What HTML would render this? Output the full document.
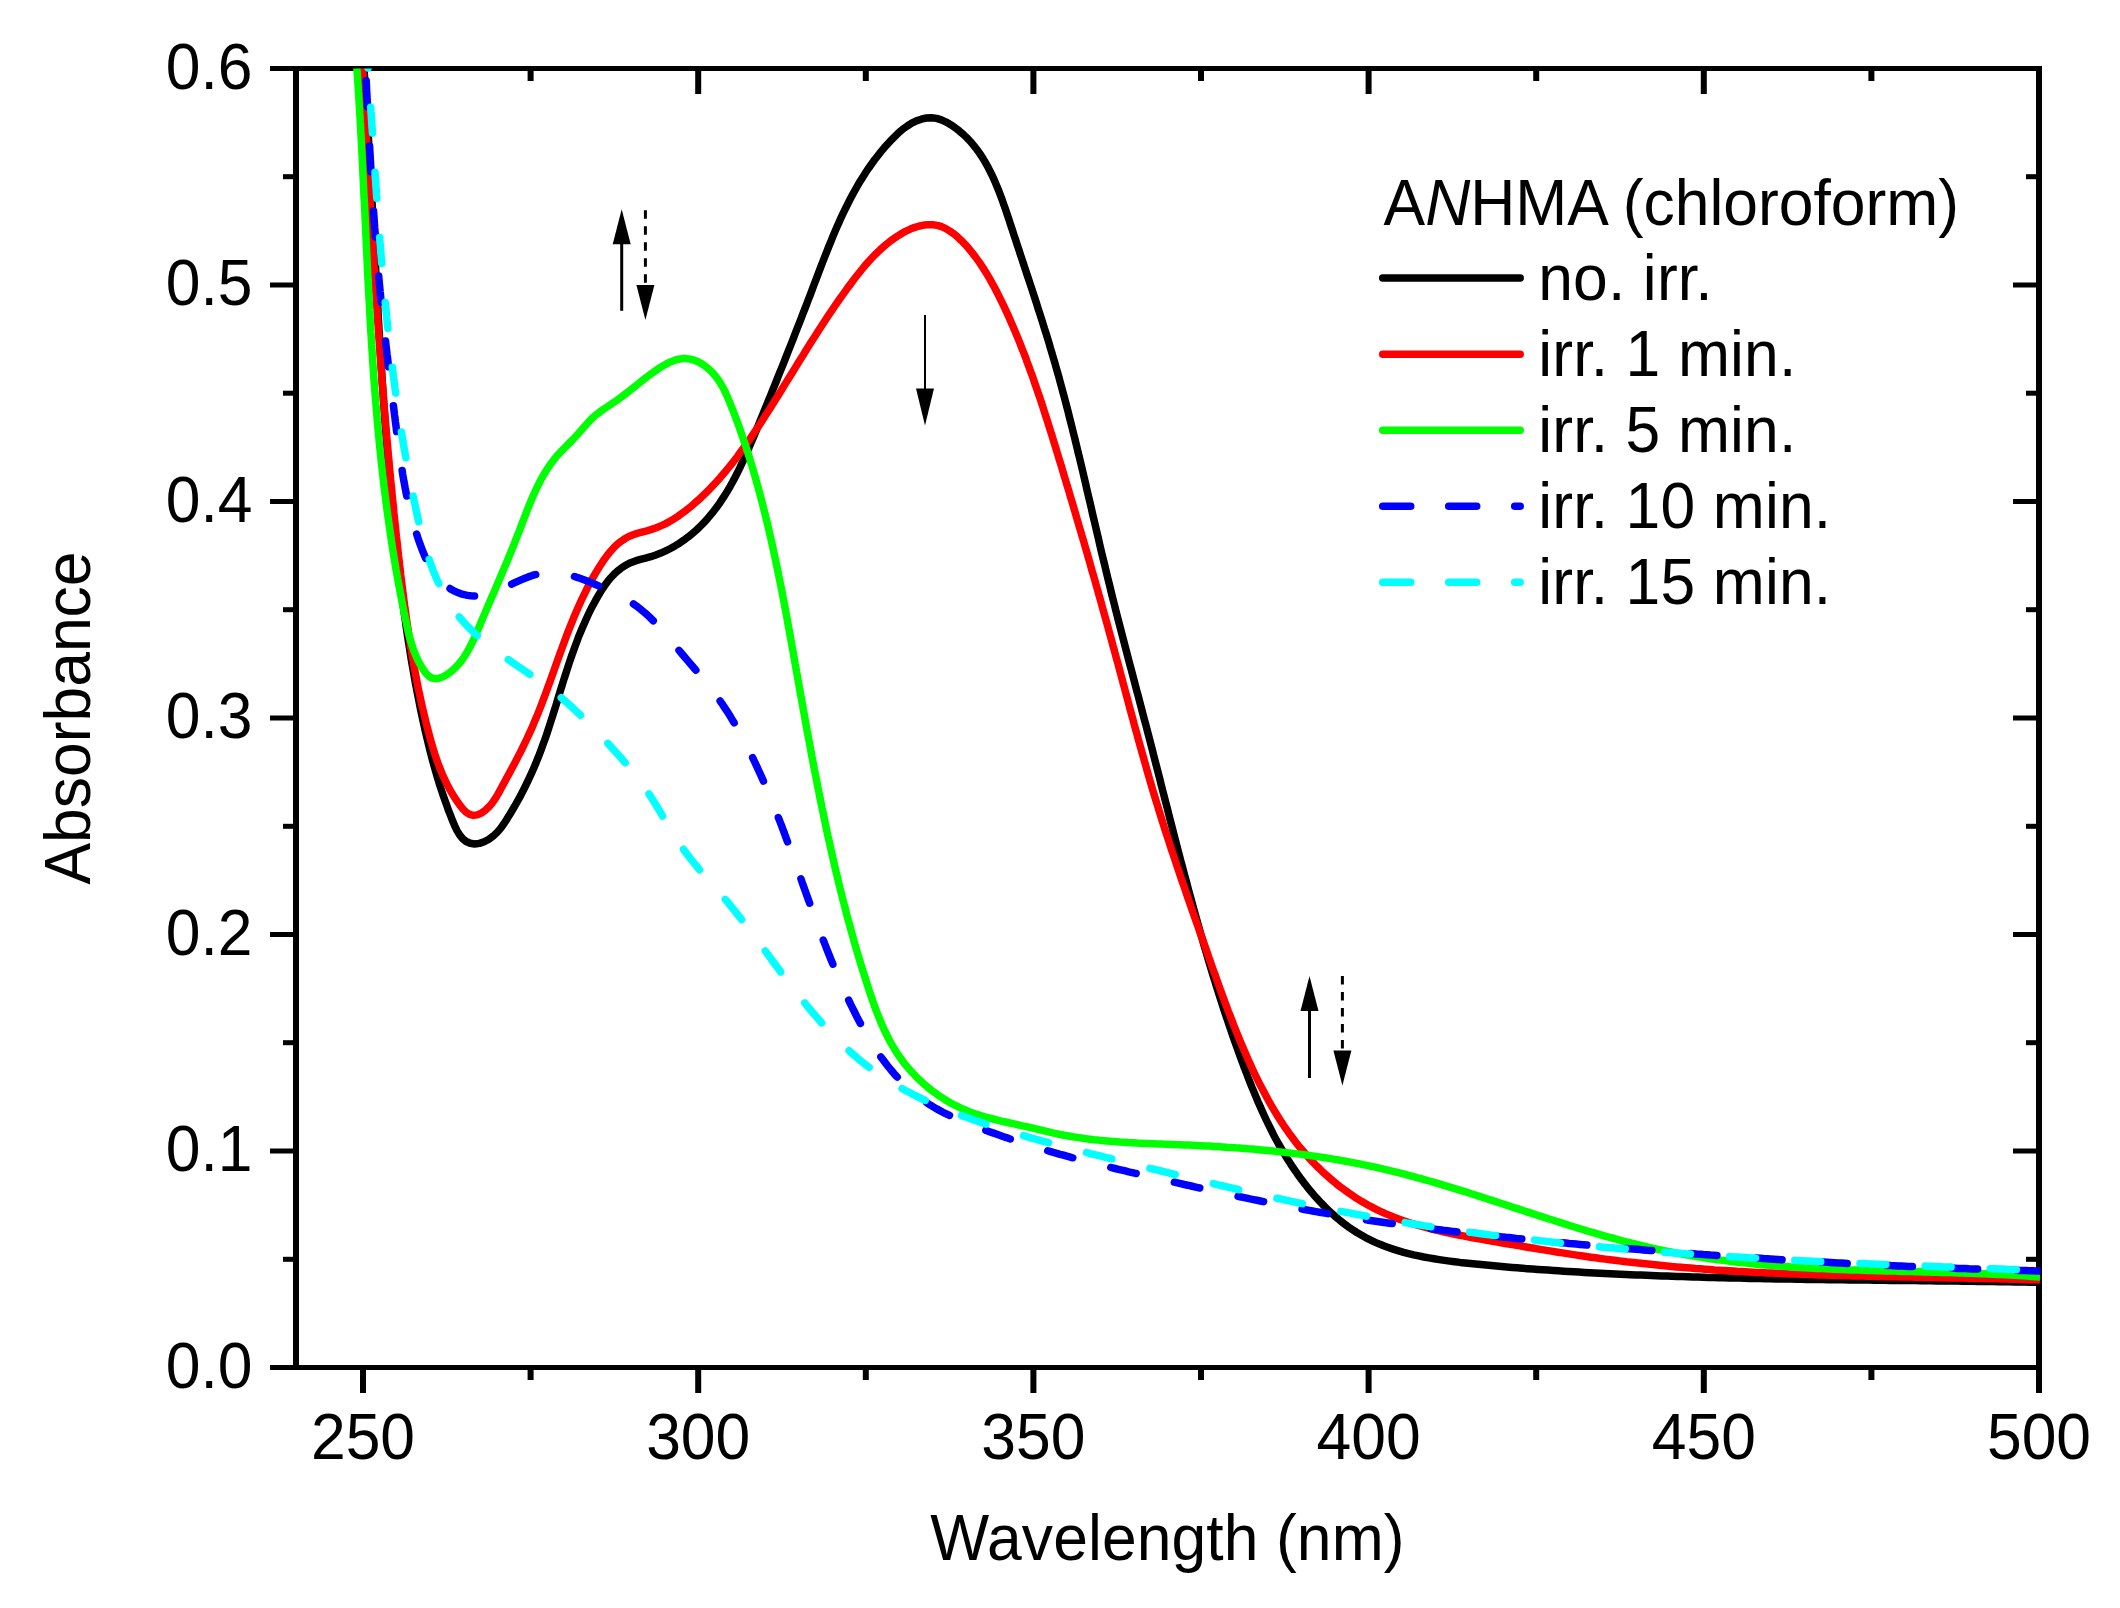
<!DOCTYPE html>
<html lang="en"><head><meta charset="utf-8"><title>UV-Vis absorbance of ANHMA in chloroform</title>
<style>html,body{margin:0;padding:0;background:#fff}svg{display:block}text{font-family:"Liberation Sans",Arial,Helvetica,sans-serif;font-size:62.4px;fill:#000}</style></head><body>
<svg width="2120" height="1608" viewBox="0 0 2120 1608">
<rect width="2120" height="1608" fill="#fff"/>
<defs><clipPath id="plot"><rect x="296.0" y="68.5" width="1744.5" height="1299.0"/></clipPath></defs>
<g fill="#000">
<rect x="270" y="66.0" width="1772.0" height="5"/>
<rect x="270" y="1365.0" width="1772.0" height="5"/>
<rect x="293.0" y="66.0" width="6" height="1304.0"/>
<rect x="2036.0" y="66.0" width="6" height="1327.0"/>
<rect x="360.0" y="1367.5" width="6" height="25.5"/>
<rect x="360.0" y="68.5" width="6" height="25.5"/>
<rect x="527.6" y="1367.5" width="6" height="12.5"/>
<rect x="527.6" y="68.5" width="6" height="12.5"/>
<rect x="695.2" y="1367.5" width="6" height="25.5"/>
<rect x="695.2" y="68.5" width="6" height="25.5"/>
<rect x="862.8" y="1367.5" width="6" height="12.5"/>
<rect x="862.8" y="68.5" width="6" height="12.5"/>
<rect x="1030.4" y="1367.5" width="6" height="25.5"/>
<rect x="1030.4" y="68.5" width="6" height="25.5"/>
<rect x="1198.0" y="1367.5" width="6" height="12.5"/>
<rect x="1198.0" y="68.5" width="6" height="12.5"/>
<rect x="1365.6" y="1367.5" width="6" height="25.5"/>
<rect x="1365.6" y="68.5" width="6" height="25.5"/>
<rect x="1533.2" y="1367.5" width="6" height="12.5"/>
<rect x="1533.2" y="68.5" width="6" height="12.5"/>
<rect x="1700.8" y="1367.5" width="6" height="25.5"/>
<rect x="1700.8" y="68.5" width="6" height="25.5"/>
<rect x="1868.4" y="1367.5" width="6" height="12.5"/>
<rect x="1868.4" y="68.5" width="6" height="12.5"/>
<rect x="2036.0" y="1367.5" width="6" height="25.5"/>
<rect x="270" y="1365.0" width="26.0" height="5"/>
<rect x="283" y="1256.8" width="13.0" height="5"/>
<rect x="2026" y="1256.8" width="13.0" height="5"/>
<rect x="270" y="1148.5" width="26.0" height="5"/>
<rect x="2013" y="1148.5" width="26.0" height="5"/>
<rect x="283" y="1040.2" width="13.0" height="5"/>
<rect x="2026" y="1040.2" width="13.0" height="5"/>
<rect x="270" y="932.0" width="26.0" height="5"/>
<rect x="2013" y="932.0" width="26.0" height="5"/>
<rect x="283" y="823.8" width="13.0" height="5"/>
<rect x="2026" y="823.8" width="13.0" height="5"/>
<rect x="270" y="715.5" width="26.0" height="5"/>
<rect x="2013" y="715.5" width="26.0" height="5"/>
<rect x="283" y="607.2" width="13.0" height="5"/>
<rect x="2026" y="607.2" width="13.0" height="5"/>
<rect x="270" y="499.0" width="26.0" height="5"/>
<rect x="2013" y="499.0" width="26.0" height="5"/>
<rect x="283" y="390.7" width="13.0" height="5"/>
<rect x="2026" y="390.7" width="13.0" height="5"/>
<rect x="270" y="282.5" width="26.0" height="5"/>
<rect x="2013" y="282.5" width="26.0" height="5"/>
<rect x="283" y="174.2" width="13.0" height="5"/>
<rect x="2026" y="174.2" width="13.0" height="5"/>
<rect x="270" y="66.0" width="26.0" height="5"/>
</g>
<g clip-path="url(#plot)" fill="none" stroke-linejoin="round">
<path d="M361.9,40.0 L362.2,45.2 L362.6,50.4 L363.0,55.5 L363.4,60.7 L363.7,65.9 L364.1,71.0 L364.5,76.2 L364.8,81.4 L365.2,86.6 L365.5,91.7 L365.8,96.9 L366.2,102.1 L366.5,107.3 L366.8,112.4 L367.1,117.6 L367.5,122.8 L367.8,128.0 L368.1,133.1 L368.4,138.3 L368.7,143.5 L369.0,148.7 L369.3,153.8 L369.6,159.0 L369.9,164.2 L370.2,169.4 L370.5,174.5 L370.8,179.7 L371.1,184.9 L371.4,190.0 L371.6,195.2 L371.9,200.4 L372.2,205.6 L372.5,210.7 L372.8,215.9 L373.0,221.1 L373.3,226.3 L373.6,231.4 L373.9,236.6 L374.2,241.8 L374.4,247.0 L374.7,252.1 L375.0,257.3 L375.3,262.5 L375.6,267.6 L375.8,272.8 L376.1,278.0 L376.4,283.2 L376.7,288.3 L377.0,293.5 L377.3,298.7 L377.6,303.9 L377.9,309.0 L378.1,314.2 L378.4,319.4 L378.7,324.5 L379.0,329.7 L379.3,334.9 L379.7,340.0 L380.0,345.2 L380.3,350.4 L380.6,355.6 L380.9,360.7 L381.2,365.9 L381.6,371.1 L381.9,376.2 L382.2,381.4 L382.6,386.6 L382.9,391.7 L383.3,396.9 L383.6,402.1 L384.0,407.2 L384.4,412.4 L384.7,417.6 L385.1,422.7 L385.5,427.9 L385.9,433.1 L386.3,438.2 L386.7,443.4 L387.1,448.6 L387.5,453.7 L387.9,458.9 L388.3,464.1 L388.8,469.2 L389.2,474.4 L389.7,479.6 L390.1,484.7 L390.6,489.9 L391.0,495.1 L391.5,500.2 L392.0,505.4 L392.5,510.5 L393.0,515.7 L393.5,520.9 L394.0,526.0 L394.5,531.2 L395.1,536.3 L395.6,541.5 L396.2,546.7 L396.7,551.8 L397.3,557.0 L397.9,562.1 L398.5,567.3 L399.1,572.4 L399.7,577.6 L400.3,582.8 L401.0,587.9 L401.6,593.1 L402.3,598.2 L402.9,603.4 L403.6,608.5 L404.3,613.6 L405.1,618.8 L405.8,623.9 L406.5,629.0 L407.3,634.2 L408.1,639.3 L408.9,644.4 L409.7,649.5 L410.5,654.6 L411.3,659.7 L412.2,664.9 L413.1,669.9 L414.0,675.0 L414.9,680.1 L415.8,685.2 L416.8,690.3 L417.8,695.3 L418.8,700.4 L419.8,705.5 L420.8,710.5 L421.9,715.5 L423.0,720.6 L424.1,725.6 L425.2,730.6 L426.4,735.6 L427.6,740.6 L428.8,745.6 L430.0,750.6 L431.3,755.6 L432.6,760.6 L434.0,765.6 L435.4,770.6 L436.9,775.6 L438.4,780.6 L439.9,785.6 L441.6,790.6 L443.2,795.6 L445.0,800.6 L446.8,805.6 L448.6,810.7 L450.6,815.7 L452.6,820.8 L454.7,825.8 L457.0,830.6 L459.6,834.9 L462.6,838.6 L466.1,841.5 L470.2,843.3 L474.7,844.0 L479.5,843.4 L484.2,841.8 L488.9,839.3 L493.2,836.1 L497.1,832.4 L500.6,828.4 L503.7,824.0 L506.6,819.6 L509.4,815.1 L512.1,810.5 L514.8,806.0 L517.4,801.4 L519.9,796.9 L522.3,792.3 L524.6,787.7 L526.9,783.0 L529.1,778.4 L531.3,773.7 L533.4,769.0 L535.4,764.3 L537.3,759.5 L539.2,754.8 L541.1,749.9 L542.8,745.1 L544.6,740.3 L546.3,735.4 L547.9,730.5 L549.5,725.6 L551.1,720.6 L552.7,715.7 L554.2,710.8 L555.8,705.8 L557.3,700.9 L558.8,695.9 L560.3,690.9 L561.9,686.0 L563.4,681.0 L565.0,676.0 L566.6,671.1 L568.2,666.2 L569.8,661.2 L571.5,656.3 L573.2,651.4 L575.0,646.5 L576.8,641.7 L578.6,636.8 L580.6,632.0 L582.6,627.2 L584.7,622.4 L586.8,617.7 L589.0,613.0 L591.3,608.3 L593.8,603.7 L596.3,599.1 L598.9,594.6 L601.6,590.1 L604.5,585.8 L607.5,581.7 L610.8,577.7 L614.2,574.1 L617.9,570.7 L621.9,567.6 L626.1,565.0 L630.6,562.7 L635.4,560.9 L640.4,559.4 L645.6,558.1 L650.8,556.7 L655.8,555.0 L660.8,553.1 L665.7,550.9 L670.4,548.5 L675.0,545.9 L679.5,543.2 L683.8,540.2 L688.0,537.1 L692.0,533.8 L695.9,530.5 L699.6,527.0 L703.2,523.3 L706.7,519.6 L710.0,515.7 L713.2,511.8 L716.3,507.8 L719.3,503.6 L722.1,499.4 L724.9,495.1 L727.6,490.7 L730.2,486.3 L732.7,481.8 L735.1,477.2 L737.5,472.6 L739.8,467.9 L742.0,463.2 L744.2,458.5 L746.3,453.7 L748.4,448.9 L750.5,444.1 L752.6,439.3 L754.6,434.5 L756.6,429.6 L758.6,424.8 L760.5,419.9 L762.5,415.1 L764.5,410.3 L766.5,405.5 L768.4,400.7 L770.4,395.9 L772.3,391.1 L774.3,386.3 L776.2,381.5 L778.1,376.7 L780.0,371.9 L782.0,367.1 L783.9,362.3 L785.8,357.5 L787.7,352.7 L789.6,347.9 L791.5,343.1 L793.4,338.3 L795.2,333.5 L797.1,328.7 L799.0,323.9 L800.9,319.1 L802.7,314.3 L804.6,309.5 L806.5,304.6 L808.3,299.8 L810.2,295.0 L812.0,290.1 L813.8,285.3 L815.7,280.4 L817.5,275.6 L819.4,270.7 L821.2,265.9 L823.1,261.0 L825.0,256.2 L826.9,251.3 L828.8,246.5 L830.8,241.7 L832.7,236.9 L834.7,232.1 L836.8,227.3 L838.9,222.6 L841.0,217.8 L843.2,213.1 L845.5,208.5 L847.8,203.8 L850.1,199.2 L852.5,194.7 L855.0,190.2 L857.6,185.7 L860.2,181.2 L862.9,176.9 L865.7,172.5 L868.6,168.2 L871.6,164.0 L874.6,159.8 L877.8,155.7 L881.0,151.6 L884.4,147.6 L887.9,143.7 L891.5,139.8 L895.2,136.1 L899.0,132.4 L903.0,129.0 L907.3,126.0 L911.7,123.2 L916.4,120.9 L921.3,119.2 L926.4,118.0 L931.5,117.7 L936.6,118.4 L941.4,119.9 L946.2,122.1 L950.7,124.7 L955.0,127.6 L959.1,130.8 L963.0,134.1 L966.7,137.6 L970.1,141.2 L973.4,145.1 L976.5,149.0 L979.5,153.1 L982.3,157.3 L984.9,161.7 L987.4,166.1 L989.8,170.7 L992.1,175.3 L994.3,180.1 L996.3,184.9 L998.3,189.7 L1000.2,194.6 L1002.1,199.6 L1003.8,204.6 L1005.6,209.6 L1007.3,214.7 L1009.0,219.7 L1010.6,224.8 L1012.3,229.8 L1013.9,234.8 L1015.6,239.8 L1017.2,244.8 L1018.9,249.8 L1020.5,254.8 L1022.1,259.7 L1023.8,264.7 L1025.4,269.6 L1027.0,274.5 L1028.7,279.4 L1030.3,284.3 L1031.9,289.2 L1033.5,294.1 L1035.1,299.0 L1036.7,303.9 L1038.2,308.8 L1039.8,313.7 L1041.4,318.6 L1042.9,323.5 L1044.4,328.4 L1046.0,333.2 L1047.5,338.1 L1049.0,343.0 L1050.4,348.0 L1051.9,352.9 L1053.3,357.8 L1054.8,362.7 L1056.2,367.7 L1057.6,372.6 L1059.0,377.6 L1060.3,382.5 L1061.7,387.5 L1063.0,392.5 L1064.4,397.5 L1065.7,402.5 L1067.0,407.5 L1068.3,412.5 L1069.5,417.5 L1070.8,422.5 L1072.1,427.6 L1073.3,432.6 L1074.6,437.6 L1075.8,442.7 L1077.0,447.7 L1078.2,452.8 L1079.5,457.8 L1080.7,462.9 L1081.9,467.9 L1083.1,473.0 L1084.3,478.1 L1085.5,483.1 L1086.6,488.2 L1087.8,493.3 L1089.0,498.4 L1090.2,503.4 L1091.4,508.5 L1092.5,513.6 L1093.7,518.7 L1094.9,523.7 L1096.1,528.8 L1097.3,533.9 L1098.5,538.9 L1099.6,544.0 L1100.8,549.1 L1102.0,554.1 L1103.2,559.2 L1104.5,564.3 L1105.7,569.3 L1106.9,574.4 L1108.1,579.4 L1109.4,584.5 L1110.6,589.5 L1111.8,594.5 L1113.1,599.6 L1114.4,604.6 L1115.6,609.6 L1116.9,614.6 L1118.2,619.7 L1119.5,624.7 L1120.8,629.7 L1122.1,634.7 L1123.4,639.7 L1124.7,644.7 L1126.0,649.7 L1127.3,654.7 L1128.6,659.7 L1129.9,664.7 L1131.3,669.7 L1132.6,674.7 L1133.9,679.7 L1135.2,684.7 L1136.5,689.7 L1137.9,694.7 L1139.2,699.7 L1140.5,704.7 L1141.8,709.7 L1143.1,714.7 L1144.4,719.7 L1145.8,724.7 L1147.1,729.7 L1148.4,734.7 L1149.7,739.7 L1151.0,744.7 L1152.3,749.7 L1153.5,754.7 L1154.8,759.7 L1156.1,764.8 L1157.4,769.8 L1158.7,774.8 L1160.0,779.8 L1161.2,784.8 L1162.5,789.9 L1163.8,794.9 L1165.1,799.9 L1166.4,804.9 L1167.7,809.9 L1168.9,815.0 L1170.2,820.0 L1171.5,825.0 L1172.8,830.0 L1174.1,835.1 L1175.4,840.1 L1176.7,845.1 L1178.0,850.1 L1179.3,855.1 L1180.6,860.2 L1182.0,865.2 L1183.3,870.2 L1184.6,875.2 L1186.0,880.2 L1187.3,885.2 L1188.6,890.2 L1190.0,895.2 L1191.4,900.2 L1192.7,905.2 L1194.1,910.2 L1195.5,915.2 L1196.9,920.2 L1198.3,925.2 L1199.7,930.2 L1201.1,935.2 L1202.6,940.2 L1204.0,945.2 L1205.5,950.1 L1207.0,955.1 L1208.4,960.1 L1209.9,965.0 L1211.4,970.0 L1212.9,974.9 L1214.5,979.9 L1216.0,984.8 L1217.6,989.8 L1219.1,994.7 L1220.7,999.6 L1222.3,1004.6 L1223.9,1009.5 L1225.5,1014.4 L1227.2,1019.3 L1228.8,1024.2 L1230.5,1029.1 L1232.2,1034.0 L1233.9,1038.9 L1235.6,1043.8 L1237.4,1048.6 L1239.1,1053.5 L1240.9,1058.4 L1242.7,1063.2 L1244.5,1068.1 L1246.4,1072.9 L1248.2,1077.7 L1250.1,1082.6 L1252.0,1087.4 L1254.0,1092.1 L1256.0,1096.9 L1258.0,1101.7 L1260.1,1106.4 L1262.2,1111.1 L1264.3,1115.8 L1266.5,1120.5 L1268.8,1125.2 L1271.1,1129.8 L1273.4,1134.4 L1275.8,1138.9 L1278.3,1143.5 L1280.9,1148.0 L1283.5,1152.4 L1286.1,1156.9 L1288.9,1161.3 L1291.7,1165.6 L1294.6,1169.9 L1297.6,1174.2 L1300.7,1178.4 L1303.8,1182.6 L1307.1,1186.8 L1310.4,1190.8 L1313.8,1194.9 L1317.3,1198.8 L1320.9,1202.7 L1324.5,1206.4 L1328.3,1210.1 L1332.1,1213.7 L1336.0,1217.1 L1340.0,1220.5 L1344.1,1223.7 L1348.2,1226.8 L1352.5,1229.7 L1356.8,1232.5 L1361.2,1235.1 L1365.6,1237.6 L1370.2,1239.9 L1374.8,1242.1 L1379.4,1244.1 L1384.2,1246.0 L1389.0,1247.7 L1393.8,1249.4 L1398.7,1250.9 L1403.6,1252.3 L1408.6,1253.6 L1413.6,1254.8 L1418.7,1255.9 L1423.8,1257.0 L1428.9,1257.9 L1434.1,1258.8 L1439.2,1259.6 L1444.4,1260.4 L1449.6,1261.1 L1454.8,1261.7 L1460.0,1262.4 L1465.2,1262.9 L1470.5,1263.5 L1475.7,1264.0 L1480.9,1264.6 L1486.1,1265.1 L1491.3,1265.6 L1496.5,1266.1 L1501.6,1266.5 L1506.8,1267.0 L1512.0,1267.4 L1517.2,1267.8 L1522.3,1268.3 L1527.5,1268.7 L1532.7,1269.0 L1537.8,1269.4 L1543.0,1269.8 L1548.1,1270.1 L1553.3,1270.5 L1558.4,1270.8 L1563.6,1271.2 L1568.7,1271.5 L1573.9,1271.8 L1579.1,1272.1 L1584.2,1272.4 L1589.4,1272.7 L1594.5,1272.9 L1599.7,1273.2 L1604.8,1273.5 L1610.0,1273.7 L1615.2,1274.0 L1620.3,1274.2 L1625.5,1274.4 L1630.6,1274.7 L1635.8,1274.9 L1641.0,1275.1 L1646.2,1275.3 L1651.3,1275.5 L1656.5,1275.7 L1661.7,1275.9 L1666.8,1276.1 L1672.0,1276.3 L1677.2,1276.4 L1682.4,1276.6 L1687.6,1276.8 L1692.7,1276.9 L1697.9,1277.1 L1703.1,1277.2 L1708.3,1277.4 L1713.5,1277.5 L1718.6,1277.7 L1723.8,1277.8 L1729.0,1277.9 L1734.2,1278.0 L1739.4,1278.1 L1744.6,1278.3 L1749.8,1278.4 L1754.9,1278.5 L1760.1,1278.6 L1765.3,1278.7 L1770.5,1278.8 L1775.7,1278.9 L1780.9,1279.0 L1786.1,1279.0 L1791.3,1279.1 L1796.5,1279.2 L1801.6,1279.3 L1806.8,1279.4 L1812.0,1279.4 L1817.2,1279.5 L1822.4,1279.6 L1827.6,1279.7 L1832.8,1279.7 L1838.0,1279.8 L1843.2,1279.8 L1848.4,1279.9 L1853.5,1280.0 L1858.7,1280.0 L1863.9,1280.1 L1869.1,1280.1 L1874.3,1280.2 L1879.5,1280.3 L1884.7,1280.3 L1889.9,1280.4 L1895.1,1280.4 L1900.2,1280.5 L1905.4,1280.5 L1910.6,1280.6 L1915.8,1280.6 L1921.0,1280.7 L1926.2,1280.8 L1931.4,1280.8 L1936.5,1280.9 L1941.7,1280.9 L1946.9,1281.0 L1952.1,1281.1 L1957.3,1281.1 L1962.4,1281.2 L1967.6,1281.2 L1972.8,1281.3 L1978.0,1281.4 L1983.1,1281.4 L1988.3,1281.5 L1993.5,1281.6 L1998.7,1281.7 L2003.8,1281.7 L2009.0,1281.8 L2014.2,1281.9 L2019.3,1282.0 L2024.5,1282.1 L2029.7,1282.2 L2034.8,1282.3 L2040.0,1282.4" stroke="#000" stroke-width="7.5"/>
<path d="M361.1,40.0 L361.3,44.8 L361.6,49.6 L361.9,54.4 L362.2,59.1 L362.4,63.9 L362.7,68.7 L363.0,73.4 L363.2,78.2 L363.5,83.0 L363.8,87.8 L364.0,92.5 L364.3,97.3 L364.6,102.1 L364.8,106.9 L365.1,111.6 L365.4,116.4 L365.6,121.2 L365.9,126.0 L366.2,130.8 L366.4,135.5 L366.7,140.3 L367.0,145.1 L367.2,149.9 L367.5,154.7 L367.8,159.4 L368.1,164.2 L368.3,169.0 L368.6,173.8 L368.9,178.6 L369.1,183.3 L369.4,188.1 L369.7,192.9 L370.0,197.7 L370.3,202.5 L370.5,207.2 L370.8,212.0 L371.1,216.8 L371.4,221.6 L371.7,226.4 L372.0,231.2 L372.3,235.9 L372.6,240.7 L372.8,245.5 L373.1,250.3 L373.4,255.1 L373.7,259.9 L374.0,264.6 L374.3,269.4 L374.7,274.2 L375.0,279.0 L375.3,283.8 L375.6,288.5 L375.9,293.3 L376.2,298.1 L376.5,302.9 L376.9,307.7 L377.2,312.5 L377.5,317.2 L377.8,322.0 L378.2,326.8 L378.5,331.6 L378.8,336.4 L379.2,341.1 L379.5,345.9 L379.9,350.7 L380.2,355.5 L380.6,360.2 L380.9,365.0 L381.3,369.8 L381.7,374.6 L382.0,379.4 L382.4,384.1 L382.8,388.9 L383.2,393.7 L383.5,398.5 L383.9,403.2 L384.3,408.0 L384.7,412.8 L385.1,417.6 L385.5,422.3 L385.9,427.1 L386.3,431.9 L386.7,436.6 L387.1,441.4 L387.6,446.2 L388.0,450.9 L388.4,455.7 L388.9,460.5 L389.3,465.3 L389.7,470.0 L390.2,474.8 L390.6,479.5 L391.1,484.3 L391.6,489.1 L392.0,493.8 L392.5,498.6 L393.0,503.4 L393.5,508.1 L393.9,512.9 L394.4,517.6 L394.9,522.4 L395.4,527.2 L395.9,531.9 L396.4,536.7 L397.0,541.4 L397.5,546.2 L398.0,550.9 L398.5,555.7 L399.1,560.4 L399.6,565.2 L400.2,569.9 L400.7,574.7 L401.3,579.4 L401.9,584.2 L402.5,588.9 L403.1,593.6 L403.7,598.4 L404.3,603.1 L404.9,607.9 L405.6,612.6 L406.2,617.3 L406.9,622.1 L407.6,626.8 L408.3,631.5 L409.0,636.2 L409.8,641.0 L410.5,645.7 L411.3,650.4 L412.1,655.1 L412.9,659.8 L413.7,664.5 L414.6,669.3 L415.5,674.0 L416.4,678.7 L417.3,683.4 L418.2,688.1 L419.2,692.8 L420.2,697.4 L421.2,702.1 L422.3,706.8 L423.4,711.5 L424.5,716.2 L425.6,720.8 L426.8,725.5 L428.0,730.2 L429.2,734.8 L430.5,739.5 L431.8,744.1 L433.2,748.8 L434.6,753.4 L436.1,757.9 L437.7,762.5 L439.4,767.0 L441.2,771.4 L443.0,775.9 L445.0,780.2 L447.1,784.5 L449.4,788.8 L451.8,793.0 L454.3,797.1 L457.0,801.1 L459.8,805.1 L462.8,808.9 L466.0,812.1 L469.5,814.4 L473.2,815.4 L477.2,814.9 L481.3,813.1 L485.3,810.3 L489.0,806.8 L492.3,802.9 L495.2,798.7 L497.8,794.4 L500.2,790.1 L502.5,785.7 L504.9,781.4 L507.2,777.1 L509.5,772.9 L511.8,768.6 L514.0,764.4 L516.2,760.2 L518.4,755.9 L520.6,751.7 L522.7,747.5 L524.8,743.2 L526.8,739.0 L528.8,734.7 L530.8,730.4 L532.7,726.1 L534.5,721.7 L536.4,717.3 L538.2,712.9 L539.9,708.5 L541.6,704.1 L543.3,699.6 L545.0,695.1 L546.7,690.6 L548.3,686.1 L550.0,681.6 L551.6,677.1 L553.2,672.6 L554.8,668.0 L556.4,663.5 L558.0,659.0 L559.7,654.4 L561.3,649.9 L563.0,645.4 L564.6,640.9 L566.3,636.4 L568.0,631.9 L569.8,627.4 L571.6,622.9 L573.4,618.5 L575.2,614.1 L577.1,609.7 L579.1,605.3 L581.0,600.9 L583.1,596.6 L585.2,592.3 L587.3,588.0 L589.5,583.8 L591.8,579.6 L594.2,575.4 L596.6,571.3 L599.1,567.2 L601.7,563.2 L604.4,559.2 L607.2,555.4 L610.1,551.7 L613.3,548.2 L616.6,544.9 L620.2,541.9 L624.0,539.3 L628.0,536.9 L632.4,535.0 L637.1,533.4 L641.9,532.1 L646.8,530.8 L651.6,529.4 L656.3,527.8 L660.8,525.9 L665.2,523.9 L669.4,521.6 L673.5,519.2 L677.5,516.6 L681.4,513.8 L685.2,511.0 L688.9,508.1 L692.6,505.0 L696.1,501.9 L699.7,498.8 L703.1,495.5 L706.5,492.2 L709.8,488.9 L713.1,485.4 L716.3,482.0 L719.5,478.4 L722.6,474.8 L725.7,471.2 L728.7,467.5 L731.7,463.8 L734.7,460.0 L737.6,456.2 L740.4,452.3 L743.2,448.5 L746.0,444.5 L748.8,440.6 L751.5,436.6 L754.2,432.6 L756.9,428.6 L759.6,424.6 L762.2,420.6 L764.8,416.5 L767.4,412.5 L770.0,408.4 L772.6,404.3 L775.1,400.2 L777.7,396.2 L780.2,392.1 L782.7,388.0 L785.2,383.9 L787.8,379.8 L790.3,375.7 L792.8,371.7 L795.3,367.6 L797.8,363.5 L800.3,359.5 L802.9,355.4 L805.4,351.3 L807.9,347.3 L810.4,343.3 L813.0,339.2 L815.6,335.2 L818.1,331.2 L820.7,327.2 L823.3,323.2 L825.9,319.2 L828.6,315.2 L831.2,311.3 L833.9,307.4 L836.6,303.4 L839.3,299.5 L842.1,295.6 L844.8,291.8 L847.6,287.9 L850.5,284.1 L853.3,280.2 L856.2,276.5 L859.2,272.7 L862.2,269.0 L865.2,265.3 L868.4,261.7 L871.6,258.2 L874.9,254.7 L878.4,251.4 L881.9,248.1 L885.6,244.9 L889.4,241.8 L893.4,238.9 L897.5,236.1 L901.7,233.5 L906.0,231.1 L910.4,229.1 L914.9,227.3 L919.4,226.0 L923.9,225.1 L928.4,224.7 L932.8,224.8 L937.3,225.4 L941.6,226.7 L945.8,228.6 L949.9,231.1 L953.9,233.9 L957.8,237.2 L961.5,240.7 L965.0,244.3 L968.4,248.1 L971.5,251.9 L974.4,255.6 L977.2,259.4 L979.9,263.2 L982.5,267.1 L985.0,271.1 L987.5,275.1 L989.9,279.2 L992.2,283.3 L994.5,287.5 L996.7,291.8 L998.9,296.1 L1001.0,300.4 L1003.1,304.7 L1005.2,309.1 L1007.2,313.4 L1009.2,317.8 L1011.1,322.2 L1013.0,326.6 L1014.9,331.0 L1016.7,335.4 L1018.6,339.9 L1020.4,344.3 L1022.1,348.8 L1023.9,353.2 L1025.6,357.7 L1027.2,362.2 L1028.9,366.7 L1030.5,371.2 L1032.2,375.7 L1033.8,380.2 L1035.3,384.7 L1036.9,389.2 L1038.4,393.7 L1040.0,398.3 L1041.5,402.8 L1043.0,407.4 L1044.4,411.9 L1045.9,416.5 L1047.4,421.0 L1048.8,425.6 L1050.2,430.1 L1051.7,434.7 L1053.1,439.3 L1054.5,443.8 L1055.9,448.4 L1057.3,453.0 L1058.7,457.6 L1060.1,462.2 L1061.5,466.7 L1062.9,471.3 L1064.2,475.9 L1065.6,480.5 L1067.0,485.1 L1068.4,489.6 L1069.7,494.2 L1071.1,498.8 L1072.5,503.4 L1073.8,508.0 L1075.2,512.6 L1076.5,517.2 L1077.9,521.8 L1079.2,526.4 L1080.6,531.0 L1081.9,535.6 L1083.3,540.1 L1084.6,544.7 L1085.9,549.3 L1087.3,553.9 L1088.6,558.5 L1089.9,563.1 L1091.2,567.7 L1092.5,572.4 L1093.9,577.0 L1095.2,581.6 L1096.5,586.2 L1097.8,590.8 L1099.1,595.4 L1100.4,600.0 L1101.7,604.6 L1102.9,609.2 L1104.2,613.8 L1105.5,618.4 L1106.8,623.1 L1108.1,627.7 L1109.3,632.3 L1110.6,636.9 L1111.9,641.5 L1113.1,646.2 L1114.4,650.8 L1115.6,655.4 L1116.9,660.0 L1118.2,664.6 L1119.4,669.3 L1120.6,673.9 L1121.9,678.5 L1123.1,683.1 L1124.4,687.8 L1125.6,692.4 L1126.9,697.0 L1128.1,701.6 L1129.3,706.3 L1130.6,710.9 L1131.8,715.5 L1133.1,720.1 L1134.3,724.8 L1135.6,729.4 L1136.9,734.0 L1138.1,738.6 L1139.4,743.2 L1140.7,747.8 L1142.0,752.4 L1143.3,757.1 L1144.6,761.7 L1145.9,766.3 L1147.2,770.9 L1148.5,775.5 L1149.8,780.0 L1151.2,784.6 L1152.5,789.2 L1153.9,793.8 L1155.3,798.4 L1156.7,803.0 L1158.1,807.5 L1159.5,812.1 L1160.9,816.7 L1162.3,821.2 L1163.8,825.8 L1165.2,830.3 L1166.7,834.9 L1168.2,839.4 L1169.7,844.0 L1171.1,848.5 L1172.7,853.1 L1174.2,857.6 L1175.7,862.1 L1177.2,866.7 L1178.8,871.2 L1180.3,875.7 L1181.8,880.3 L1183.4,884.8 L1185.0,889.3 L1186.5,893.8 L1188.1,898.4 L1189.7,902.9 L1191.2,907.4 L1192.8,911.9 L1194.4,916.4 L1196.0,921.0 L1197.6,925.5 L1199.2,930.0 L1200.8,934.5 L1202.4,939.0 L1204.0,943.6 L1205.6,948.1 L1207.2,952.6 L1208.7,957.1 L1210.3,961.6 L1211.9,966.2 L1213.5,970.7 L1215.2,975.2 L1216.8,979.7 L1218.4,984.3 L1220.0,988.8 L1221.7,993.3 L1223.3,997.8 L1225.0,1002.3 L1226.7,1006.8 L1228.3,1011.3 L1230.1,1015.7 L1231.8,1020.2 L1233.5,1024.7 L1235.3,1029.1 L1237.1,1033.6 L1238.9,1038.0 L1240.7,1042.4 L1242.6,1046.8 L1244.5,1051.2 L1246.4,1055.6 L1248.3,1060.0 L1250.3,1064.3 L1252.3,1068.7 L1254.3,1073.0 L1256.4,1077.3 L1258.5,1081.6 L1260.7,1085.9 L1262.9,1090.1 L1265.1,1094.3 L1267.4,1098.5 L1269.7,1102.7 L1272.1,1106.8 L1274.5,1110.9 L1277.0,1115.0 L1279.5,1119.0 L1282.1,1123.0 L1284.7,1127.0 L1287.5,1130.9 L1290.2,1134.8 L1293.1,1138.6 L1296.0,1142.4 L1298.9,1146.2 L1302.0,1149.8 L1305.1,1153.5 L1308.2,1157.1 L1311.5,1160.6 L1314.8,1164.1 L1318.2,1167.5 L1321.7,1170.9 L1325.3,1174.2 L1328.9,1177.4 L1332.6,1180.6 L1336.3,1183.7 L1340.1,1186.7 L1344.0,1189.6 L1347.9,1192.4 L1351.9,1195.1 L1355.9,1197.8 L1360.0,1200.4 L1364.1,1202.8 L1368.3,1205.2 L1372.5,1207.4 L1376.7,1209.6 L1381.0,1211.6 L1385.4,1213.6 L1389.7,1215.4 L1394.1,1217.2 L1398.6,1218.9 L1403.0,1220.5 L1407.5,1222.0 L1412.0,1223.5 L1416.6,1224.9 L1421.1,1226.2 L1425.7,1227.5 L1430.3,1228.7 L1435.0,1229.8 L1439.6,1230.9 L1444.3,1232.0 L1449.0,1233.0 L1453.7,1234.0 L1458.4,1235.0 L1463.1,1235.9 L1467.8,1236.8 L1472.5,1237.7 L1477.3,1238.5 L1482.0,1239.4 L1486.8,1240.2 L1491.5,1241.0 L1496.2,1241.8 L1501.0,1242.7 L1505.7,1243.5 L1510.4,1244.3 L1515.2,1245.1 L1519.9,1245.9 L1524.6,1246.7 L1529.4,1247.5 L1534.1,1248.3 L1538.8,1249.1 L1543.6,1249.9 L1548.3,1250.6 L1553.0,1251.4 L1557.8,1252.2 L1562.5,1252.9 L1567.2,1253.6 L1571.9,1254.4 L1576.7,1255.1 L1581.4,1255.8 L1586.1,1256.5 L1590.9,1257.2 L1595.6,1257.8 L1600.3,1258.5 L1605.1,1259.1 L1609.8,1259.7 L1614.6,1260.3 L1619.3,1260.9 L1624.1,1261.5 L1628.8,1262.1 L1633.6,1262.6 L1638.3,1263.1 L1643.1,1263.6 L1647.8,1264.1 L1652.6,1264.6 L1657.3,1265.1 L1662.1,1265.6 L1666.9,1266.0 L1671.6,1266.5 L1676.4,1266.9 L1681.1,1267.3 L1685.9,1267.7 L1690.7,1268.1 L1695.4,1268.5 L1700.2,1268.8 L1705.0,1269.2 L1709.8,1269.5 L1714.5,1269.9 L1719.3,1270.2 L1724.1,1270.5 L1728.9,1270.8 L1733.6,1271.1 L1738.4,1271.4 L1743.2,1271.6 L1748.0,1271.9 L1752.8,1272.2 L1757.6,1272.4 L1762.3,1272.6 L1767.1,1272.9 L1771.9,1273.1 L1776.7,1273.3 L1781.5,1273.5 L1786.3,1273.7 L1791.1,1273.9 L1795.8,1274.1 L1800.6,1274.3 L1805.4,1274.4 L1810.2,1274.6 L1815.0,1274.8 L1819.8,1274.9 L1824.6,1275.1 L1829.4,1275.2 L1834.2,1275.4 L1839.0,1275.5 L1843.8,1275.6 L1848.6,1275.8 L1853.3,1275.9 L1858.1,1276.0 L1862.9,1276.1 L1867.7,1276.2 L1872.5,1276.3 L1877.3,1276.4 L1882.1,1276.6 L1886.9,1276.7 L1891.7,1276.8 L1896.5,1276.8 L1901.3,1276.9 L1906.1,1277.0 L1910.9,1277.1 L1915.6,1277.2 L1920.4,1277.3 L1925.2,1277.4 L1930.0,1277.5 L1934.8,1277.6 L1939.6,1277.7 L1944.4,1277.8 L1949.2,1277.9 L1954.0,1277.9 L1958.7,1278.0 L1963.5,1278.1 L1968.3,1278.2 L1973.1,1278.3 L1977.9,1278.4 L1982.7,1278.5 L1987.5,1278.6 L1992.2,1278.7 L1997.0,1278.8 L2001.8,1278.9 L2006.6,1279.1 L2011.4,1279.2 L2016.1,1279.3 L2020.9,1279.4 L2025.7,1279.6 L2030.4,1279.7 L2035.2,1279.8 L2040.0,1280.0" stroke="#f00" stroke-width="7.5"/>
<path d="M354.8,40.0 L355.1,44.3 L355.5,48.5 L355.8,52.8 L356.1,57.1 L356.4,61.4 L356.7,65.7 L357.0,70.0 L357.3,74.3 L357.6,78.6 L357.9,82.8 L358.2,87.1 L358.4,91.4 L358.7,95.7 L359.0,100.0 L359.2,104.3 L359.5,108.6 L359.7,112.9 L360.0,117.1 L360.2,121.4 L360.5,125.7 L360.7,130.0 L360.9,134.3 L361.2,138.6 L361.4,142.9 L361.6,147.2 L361.8,151.4 L362.1,155.7 L362.3,160.0 L362.5,164.3 L362.7,168.6 L362.9,172.9 L363.1,177.2 L363.3,181.5 L363.5,185.7 L363.7,190.0 L363.9,194.3 L364.1,198.6 L364.4,202.9 L364.6,207.2 L364.8,211.5 L365.0,215.7 L365.2,220.0 L365.4,224.3 L365.6,228.6 L365.8,232.9 L366.0,237.2 L366.2,241.5 L366.4,245.7 L366.6,250.0 L366.8,254.3 L367.0,258.6 L367.2,262.9 L367.4,267.2 L367.6,271.4 L367.8,275.7 L368.0,280.0 L368.3,284.3 L368.5,288.6 L368.7,292.8 L368.9,297.1 L369.2,301.4 L369.4,305.7 L369.6,310.0 L369.9,314.2 L370.1,318.5 L370.3,322.8 L370.6,327.1 L370.8,331.4 L371.1,335.6 L371.4,339.9 L371.6,344.2 L371.9,348.5 L372.2,352.7 L372.5,357.0 L372.7,361.3 L373.0,365.6 L373.3,369.8 L373.6,374.1 L373.9,378.4 L374.2,382.7 L374.6,386.9 L374.9,391.2 L375.2,395.5 L375.6,399.7 L375.9,404.0 L376.3,408.3 L376.6,412.5 L377.0,416.8 L377.3,421.1 L377.7,425.4 L378.1,429.6 L378.5,433.9 L378.9,438.1 L379.3,442.4 L379.7,446.7 L380.2,450.9 L380.6,455.2 L381.0,459.5 L381.5,463.7 L382.0,468.0 L382.4,472.3 L382.9,476.5 L383.4,480.8 L383.9,485.0 L384.4,489.3 L384.9,493.6 L385.5,497.8 L386.0,502.1 L386.5,506.3 L387.1,510.6 L387.7,514.8 L388.3,519.1 L388.9,523.3 L389.5,527.6 L390.1,531.8 L390.7,536.1 L391.3,540.3 L392.0,544.6 L392.6,548.8 L393.3,553.1 L394.0,557.3 L394.7,561.6 L395.4,565.8 L396.1,570.1 L396.9,574.3 L397.6,578.6 L398.4,582.8 L399.2,587.1 L400.0,591.3 L400.8,595.5 L401.6,599.8 L402.4,604.0 L403.3,608.2 L404.1,612.5 L405.0,616.7 L405.9,621.0 L406.8,625.2 L407.7,629.4 L408.7,633.6 L409.8,637.8 L411.0,642.0 L412.2,646.1 L413.6,650.1 L415.2,654.1 L416.9,658.1 L418.8,662.0 L420.9,665.8 L423.2,669.5 L425.7,673.0 L428.6,676.0 L431.7,678.0 L435.1,678.7 L438.8,678.3 L442.5,677.0 L446.2,675.0 L449.7,672.6 L453.0,669.9 L456.0,667.0 L458.9,663.9 L461.5,660.6 L464.0,657.1 L466.3,653.4 L468.5,649.6 L470.5,645.8 L472.5,641.8 L474.4,637.8 L476.2,633.7 L477.9,629.6 L479.7,625.5 L481.4,621.5 L483.1,617.4 L484.8,613.4 L486.5,609.4 L488.2,605.5 L489.9,601.5 L491.6,597.6 L493.3,593.7 L495.0,589.8 L496.6,585.9 L498.3,582.0 L499.9,578.2 L501.6,574.3 L503.2,570.4 L504.8,566.6 L506.5,562.7 L508.1,558.8 L509.7,554.9 L511.3,551.0 L512.9,547.1 L514.5,543.1 L516.0,539.2 L517.6,535.2 L519.2,531.2 L520.7,527.1 L522.2,523.1 L523.8,519.0 L525.4,514.9 L526.9,510.9 L528.6,506.8 L530.2,502.7 L531.9,498.7 L533.6,494.7 L535.4,490.7 L537.3,486.8 L539.2,483.0 L541.2,479.1 L543.3,475.4 L545.5,471.7 L547.8,468.1 L550.2,464.6 L552.7,461.2 L555.3,457.9 L558.0,454.7 L560.9,451.6 L563.9,448.5 L566.9,445.5 L569.9,442.5 L572.9,439.5 L575.9,436.3 L578.7,433.1 L581.5,429.9 L584.3,426.7 L587.2,423.5 L590.1,420.3 L593.2,417.3 L596.4,414.5 L599.8,411.9 L603.3,409.4 L606.9,407.0 L610.5,404.6 L614.1,402.2 L617.6,399.7 L621.0,397.3 L624.3,394.7 L627.6,392.2 L630.9,389.6 L634.2,387.0 L637.5,384.4 L640.8,381.7 L644.2,379.1 L647.7,376.4 L651.2,373.7 L654.9,371.1 L658.6,368.5 L662.5,366.1 L666.4,363.9 L670.3,361.9 L674.3,360.4 L678.3,359.2 L682.3,358.6 L686.3,358.6 L690.3,359.1 L694.3,360.2 L698.1,361.8 L701.9,363.9 L705.5,366.3 L708.9,369.1 L712.1,372.2 L715.0,375.5 L717.7,379.0 L720.1,382.6 L722.3,386.3 L724.3,390.1 L726.1,394.0 L727.9,397.9 L729.5,401.9 L731.1,405.9 L732.7,409.9 L734.3,413.9 L735.8,417.9 L737.3,422.0 L738.8,426.0 L740.2,430.0 L741.6,434.1 L743.0,438.2 L744.4,442.2 L745.8,446.3 L747.1,450.4 L748.4,454.5 L749.7,458.5 L750.9,462.6 L752.2,466.7 L753.4,470.9 L754.6,475.0 L755.8,479.1 L756.9,483.2 L758.1,487.3 L759.2,491.5 L760.3,495.6 L761.4,499.8 L762.5,503.9 L763.5,508.1 L764.6,512.2 L765.6,516.4 L766.6,520.5 L767.6,524.7 L768.6,528.9 L769.6,533.1 L770.5,537.2 L771.5,541.4 L772.4,545.6 L773.3,549.8 L774.2,554.0 L775.1,558.2 L776.0,562.4 L776.9,566.6 L777.8,570.8 L778.6,575.0 L779.5,579.2 L780.3,583.4 L781.1,587.6 L782.0,591.8 L782.8,596.0 L783.6,600.2 L784.4,604.5 L785.2,608.7 L786.0,612.9 L786.8,617.1 L787.5,621.3 L788.3,625.6 L789.1,629.8 L789.8,634.0 L790.6,638.2 L791.4,642.5 L792.1,646.7 L792.9,650.9 L793.6,655.2 L794.4,659.4 L795.1,663.6 L795.9,667.8 L796.6,672.1 L797.4,676.3 L798.1,680.5 L798.9,684.7 L799.6,689.0 L800.4,693.2 L801.1,697.4 L801.9,701.7 L802.7,705.9 L803.4,710.1 L804.2,714.3 L804.9,718.5 L805.7,722.8 L806.5,727.0 L807.2,731.2 L808.0,735.4 L808.8,739.6 L809.6,743.9 L810.4,748.1 L811.1,752.3 L811.9,756.5 L812.7,760.7 L813.5,764.9 L814.3,769.2 L815.2,773.4 L816.0,777.6 L816.8,781.8 L817.6,786.0 L818.5,790.2 L819.3,794.4 L820.1,798.6 L821.0,802.8 L821.8,807.0 L822.7,811.2 L823.6,815.4 L824.5,819.6 L825.3,823.8 L826.2,828.0 L827.1,832.2 L828.0,836.4 L829.0,840.5 L829.9,844.7 L830.8,848.9 L831.8,853.1 L832.7,857.3 L833.7,861.4 L834.6,865.6 L835.6,869.8 L836.6,874.0 L837.6,878.1 L838.6,882.3 L839.6,886.5 L840.6,890.6 L841.7,894.8 L842.7,899.0 L843.8,903.1 L844.9,907.3 L845.9,911.4 L847.0,915.6 L848.1,919.7 L849.3,923.9 L850.4,928.0 L851.5,932.1 L852.7,936.3 L853.8,940.4 L855.0,944.5 L856.2,948.7 L857.4,952.8 L858.6,956.9 L859.9,961.0 L861.1,965.2 L862.4,969.3 L863.7,973.4 L865.0,977.5 L866.3,981.6 L867.6,985.7 L868.9,989.8 L870.3,993.9 L871.7,998.0 L873.1,1002.0 L874.5,1006.1 L876.0,1010.1 L877.6,1014.1 L879.2,1018.1 L880.8,1022.1 L882.5,1026.0 L884.3,1029.9 L886.1,1033.7 L888.0,1037.5 L890.0,1041.3 L892.1,1045.0 L894.3,1048.7 L896.5,1052.3 L898.9,1055.8 L901.4,1059.3 L903.9,1062.8 L906.6,1066.1 L909.4,1069.4 L912.3,1072.6 L915.3,1075.8 L918.3,1078.8 L921.5,1081.8 L924.7,1084.7 L928.0,1087.5 L931.4,1090.2 L934.9,1092.8 L938.4,1095.3 L942.0,1097.7 L945.6,1100.0 L949.4,1102.2 L953.1,1104.3 L957.0,1106.2 L960.8,1108.1 L964.8,1109.8 L968.7,1111.4 L972.7,1112.9 L976.7,1114.3 L980.8,1115.6 L984.9,1116.8 L989.0,1117.9 L993.2,1119.0 L997.3,1120.1 L1001.5,1121.1 L1005.7,1122.0 L1009.9,1123.0 L1014.1,1123.9 L1018.3,1124.8 L1022.5,1125.8 L1026.7,1126.7 L1030.9,1127.7 L1035.1,1128.7 L1039.2,1129.7 L1043.4,1130.7 L1047.6,1131.7 L1051.8,1132.7 L1056.0,1133.6 L1060.2,1134.5 L1064.4,1135.3 L1068.6,1136.0 L1072.8,1136.8 L1077.1,1137.4 L1081.3,1138.0 L1085.5,1138.6 L1089.8,1139.2 L1094.0,1139.7 L1098.3,1140.1 L1102.5,1140.6 L1106.8,1140.9 L1111.0,1141.3 L1115.3,1141.6 L1119.6,1142.0 L1123.8,1142.2 L1128.1,1142.5 L1132.4,1142.7 L1136.7,1143.0 L1141.0,1143.2 L1145.3,1143.4 L1149.5,1143.6 L1153.8,1143.7 L1158.1,1143.9 L1162.4,1144.1 L1166.7,1144.2 L1171.0,1144.4 L1175.3,1144.6 L1179.6,1144.7 L1183.9,1144.9 L1188.2,1145.1 L1192.5,1145.3 L1196.8,1145.5 L1201.1,1145.7 L1205.4,1145.9 L1209.7,1146.1 L1214.0,1146.4 L1218.3,1146.6 L1222.5,1146.9 L1226.8,1147.2 L1231.1,1147.4 L1235.4,1147.8 L1239.7,1148.1 L1244.0,1148.4 L1248.2,1148.8 L1252.5,1149.1 L1256.8,1149.5 L1261.1,1149.9 L1265.3,1150.3 L1269.6,1150.7 L1273.9,1151.1 L1278.1,1151.6 L1282.4,1152.1 L1286.7,1152.6 L1290.9,1153.1 L1295.2,1153.6 L1299.4,1154.1 L1303.7,1154.7 L1307.9,1155.3 L1312.2,1155.9 L1316.4,1156.5 L1320.6,1157.1 L1324.9,1157.8 L1329.1,1158.4 L1333.3,1159.1 L1337.5,1159.8 L1341.8,1160.6 L1346.0,1161.3 L1350.2,1162.1 L1354.4,1162.9 L1358.6,1163.7 L1362.8,1164.6 L1367.0,1165.4 L1371.2,1166.3 L1375.3,1167.2 L1379.5,1168.2 L1383.7,1169.1 L1387.9,1170.1 L1392.0,1171.1 L1396.2,1172.1 L1400.3,1173.2 L1404.5,1174.2 L1408.6,1175.3 L1412.8,1176.4 L1416.9,1177.6 L1421.1,1178.7 L1425.2,1179.9 L1429.3,1181.0 L1433.4,1182.2 L1437.6,1183.4 L1441.7,1184.6 L1445.8,1185.9 L1449.9,1187.1 L1454.0,1188.4 L1458.1,1189.6 L1462.2,1190.9 L1466.4,1192.2 L1470.5,1193.5 L1474.6,1194.8 L1478.7,1196.1 L1482.8,1197.4 L1486.9,1198.7 L1491.0,1200.1 L1495.0,1201.4 L1499.1,1202.7 L1503.2,1204.0 L1507.3,1205.4 L1511.4,1206.7 L1515.5,1208.1 L1519.6,1209.4 L1523.7,1210.7 L1527.8,1212.1 L1531.9,1213.4 L1536.0,1214.8 L1540.1,1216.1 L1544.2,1217.4 L1548.3,1218.7 L1552.4,1220.0 L1556.5,1221.3 L1560.6,1222.6 L1564.7,1223.9 L1568.8,1225.2 L1572.9,1226.5 L1577.0,1227.8 L1581.1,1229.0 L1585.2,1230.3 L1589.3,1231.5 L1593.4,1232.7 L1597.5,1233.9 L1601.7,1235.1 L1605.8,1236.3 L1609.9,1237.4 L1614.1,1238.5 L1618.2,1239.7 L1622.3,1240.8 L1626.5,1241.9 L1630.6,1242.9 L1634.8,1244.0 L1638.9,1245.0 L1643.1,1246.0 L1647.2,1247.0 L1651.4,1247.9 L1655.6,1248.8 L1659.7,1249.8 L1663.9,1250.6 L1668.1,1251.5 L1672.3,1252.3 L1676.5,1253.1 L1680.7,1253.9 L1684.9,1254.6 L1689.1,1255.4 L1693.3,1256.1 L1697.5,1256.8 L1701.8,1257.4 L1706.0,1258.1 L1710.2,1258.7 L1714.4,1259.3 L1718.7,1259.9 L1722.9,1260.4 L1727.2,1260.9 L1731.4,1261.5 L1735.7,1262.0 L1739.9,1262.4 L1744.2,1262.9 L1748.4,1263.3 L1752.7,1263.8 L1757.0,1264.2 L1761.2,1264.6 L1765.5,1264.9 L1769.8,1265.3 L1774.1,1265.6 L1778.4,1266.0 L1782.6,1266.3 L1786.9,1266.6 L1791.2,1266.9 L1795.5,1267.2 L1799.8,1267.4 L1804.1,1267.7 L1808.4,1267.9 L1812.7,1268.2 L1817.0,1268.4 L1821.3,1268.6 L1825.6,1268.8 L1829.9,1269.0 L1834.2,1269.2 L1838.5,1269.4 L1842.8,1269.5 L1847.1,1269.7 L1851.4,1269.9 L1855.7,1270.0 L1860.0,1270.1 L1864.3,1270.3 L1868.6,1270.4 L1872.9,1270.6 L1877.2,1270.7 L1881.5,1270.8 L1885.9,1270.9 L1890.2,1271.0 L1894.5,1271.1 L1898.8,1271.3 L1903.1,1271.4 L1907.4,1271.5 L1911.7,1271.6 L1916.0,1271.7 L1920.3,1271.8 L1924.6,1271.9 L1928.9,1272.0 L1933.2,1272.2 L1937.5,1272.3 L1941.8,1272.4 L1946.1,1272.5 L1950.4,1272.6 L1954.7,1272.8 L1959.0,1272.9 L1963.3,1273.0 L1967.5,1273.2 L1971.8,1273.3 L1976.1,1273.5 L1980.4,1273.7 L1984.7,1273.8 L1988.9,1274.0 L1993.2,1274.2 L1997.5,1274.4 L2001.7,1274.6 L2006.0,1274.8 L2010.3,1275.1 L2014.5,1275.3 L2018.8,1275.6 L2023.0,1275.8 L2027.3,1276.1 L2031.5,1276.4 L2035.8,1276.7 L2040.0,1277.0" stroke="#0f0" stroke-width="7.5"/>
<path d="M364.0,40.0 L364.2,43.6 L364.4,47.1 L364.6,50.6 L364.8,54.2 L365.0,57.7 L365.2,61.3 L365.4,64.8 L365.5,68.4 L365.7,71.9 L365.9,75.4 L366.1,79.0 L366.3,82.5 L366.5,86.1 L366.6,89.6 L366.8,93.1 L367.0,96.7 L367.2,100.2 L367.4,103.8 L367.6,107.3 L367.7,110.9 L367.9,114.4 L368.1,117.9 L368.3,121.5 L368.5,125.0 L368.7,128.6 L368.9,132.1 L369.1,135.7 L369.2,139.2 L369.4,142.7 L369.6,146.3 L369.8,149.8 L370.0,153.4 L370.2,156.9 L370.4,160.4 L370.6,164.0 L370.8,167.5 L371.0,171.1 L371.2,174.6 L371.5,178.2 L371.7,181.7 L371.9,185.2 L372.1,188.8 L372.3,192.3 L372.6,195.9 L372.8,199.4 L373.0,202.9 L373.3,206.5 L373.5,210.0 L373.7,213.6 L374.0,217.1 L374.2,220.6 L374.5,224.2 L374.7,227.7 L375.0,231.2 L375.3,234.8 L375.5,238.3 L375.8,241.9 L376.1,245.4 L376.4,248.9 L376.6,252.5 L376.9,256.0 L377.2,259.5 L377.5,263.1 L377.8,266.6 L378.2,270.1 L378.5,273.7 L378.8,277.2 L379.1,280.7 L379.4,284.3 L379.8,287.8 L380.1,291.3 L380.5,294.9 L380.8,298.4 L381.2,301.9 L381.6,305.5 L381.9,309.0 L382.3,312.5 L382.7,316.1 L383.1,319.6 L383.5,323.1 L383.9,326.6 L384.2,330.2 L384.7,333.7 L385.1,337.2 L385.5,340.7 L385.9,344.3 L386.3,347.8 L386.7,351.3 L387.1,354.8 L387.6,358.4 L388.0,361.9 L388.4,365.4 L388.8,368.9 L389.3,372.5 L389.7,376.0 L390.1,379.5 L390.6,383.0 L391.0,386.5 L391.5,390.1 L391.9,393.6 L392.3,397.1 L392.8,400.6 L393.2,404.1 L393.7,407.7 L394.1,411.2 L394.5,414.7 L395.0,418.2 L395.4,421.7 L395.9,425.2 L396.3,428.8 L396.7,432.3 L397.2,435.8 L397.6,439.3 L398.1,442.8 L398.6,446.3 L399.0,449.8 L399.5,453.3 L400.0,456.8 L400.5,460.3 L401.1,463.8 L401.6,467.3 L402.2,470.8 L402.7,474.3 L403.3,477.8 L403.9,481.3 L404.6,484.8 L405.2,488.2 L405.9,491.7 L406.6,495.2 L407.3,498.6 L408.1,502.1 L408.9,505.6 L409.7,509.0 L410.5,512.5 L411.4,515.9 L412.3,519.3 L413.2,522.8 L414.2,526.2 L415.3,529.6 L416.3,533.0 L417.4,536.4 L418.5,539.8 L419.7,543.2 L421.0,546.6 L422.2,550.0 L423.6,553.3 L425.0,556.7 L426.5,559.9 L428.1,563.2 L429.8,566.3 L431.7,569.4 L433.7,572.4 L435.8,575.3 L438.1,578.1 L440.5,580.8 L443.1,583.2 L445.8,585.5 L448.6,587.6 L451.5,589.5 L454.6,591.2 L457.7,592.6 L460.9,593.8 L464.2,594.7 L467.5,595.4 L470.9,595.8 L474.3,596.0 L477.7,595.9 L481.1,595.5 L484.4,594.9 L487.8,594.0 L491.2,593.0 L494.6,591.8 L498.0,590.5 L501.3,589.0 L504.7,587.5 L508.1,585.9 L511.4,584.3 L514.8,582.7 L518.2,581.1 L521.6,579.6 L524.9,578.2 L528.3,576.9 L531.7,575.7 L535.1,574.7 L538.4,573.8 L541.8,573.2 L545.2,572.8 L548.6,572.6 L552.0,572.6 L555.4,572.8 L558.8,573.1 L562.2,573.6 L565.6,574.3 L569.0,575.0 L572.4,575.9 L575.8,576.9 L579.1,578.1 L582.5,579.3 L585.9,580.5 L589.3,581.9 L592.7,583.3 L596.0,584.7 L599.4,586.2 L602.7,587.7 L606.0,589.1 L609.3,590.6 L612.5,592.2 L615.7,593.7 L618.9,595.3 L622.0,597.0 L625.1,598.7 L628.1,600.5 L631.1,602.3 L634.0,604.3 L636.8,606.3 L639.5,608.4 L642.2,610.6 L644.9,612.8 L647.5,615.1 L650.0,617.5 L652.5,620.0 L655.0,622.5 L657.4,625.0 L659.8,627.7 L662.2,630.3 L664.5,633.0 L666.8,635.8 L669.1,638.5 L671.4,641.2 L673.7,644.0 L676.0,646.8 L678.3,649.5 L680.6,652.2 L682.9,655.0 L685.2,657.7 L687.5,660.4 L689.8,663.1 L692.1,665.8 L694.4,668.5 L696.7,671.2 L699.0,673.9 L701.2,676.6 L703.5,679.3 L705.7,682.1 L707.9,684.8 L710.1,687.6 L712.3,690.4 L714.4,693.2 L716.5,696.0 L718.6,698.9 L720.7,701.8 L722.7,704.7 L724.6,707.6 L726.6,710.6 L728.5,713.6 L730.4,716.6 L732.2,719.6 L734.1,722.7 L735.9,725.7 L737.6,728.8 L739.4,731.9 L741.1,735.1 L742.8,738.2 L744.5,741.4 L746.1,744.5 L747.7,747.7 L749.3,750.9 L750.9,754.1 L752.5,757.3 L754.0,760.5 L755.5,763.7 L757.0,766.9 L758.5,770.2 L760.0,773.4 L761.4,776.6 L762.9,779.9 L764.3,783.1 L765.7,786.4 L767.1,789.7 L768.5,792.9 L769.8,796.2 L771.2,799.5 L772.5,802.7 L773.8,806.0 L775.2,809.3 L776.5,812.6 L777.7,815.9 L779.0,819.2 L780.3,822.5 L781.6,825.8 L782.8,829.1 L784.1,832.4 L785.3,835.7 L786.5,839.1 L787.8,842.4 L789.0,845.7 L790.2,849.0 L791.4,852.3 L792.6,855.7 L793.8,859.0 L795.0,862.3 L796.2,865.6 L797.4,869.0 L798.6,872.3 L799.8,875.6 L801.0,879.0 L802.1,882.3 L803.3,885.6 L804.5,889.0 L805.7,892.3 L806.9,895.6 L808.1,899.0 L809.3,902.3 L810.5,905.6 L811.7,909.0 L812.9,912.3 L814.1,915.6 L815.4,918.9 L816.6,922.3 L817.8,925.6 L819.1,928.9 L820.3,932.2 L821.6,935.5 L822.8,938.9 L824.1,942.2 L825.4,945.5 L826.7,948.8 L828.0,952.1 L829.3,955.4 L830.6,958.7 L832.0,962.0 L833.3,965.3 L834.7,968.6 L836.1,971.8 L837.5,975.1 L838.9,978.4 L840.3,981.7 L841.7,984.9 L843.2,988.2 L844.7,991.4 L846.1,994.7 L847.7,997.9 L849.2,1001.2 L850.7,1004.4 L852.3,1007.6 L853.9,1010.8 L855.5,1014.0 L857.1,1017.2 L858.8,1020.4 L860.5,1023.6 L862.2,1026.7 L863.9,1029.8 L865.7,1032.9 L867.5,1036.0 L869.3,1039.1 L871.2,1042.1 L873.0,1045.1 L875.0,1048.1 L876.9,1051.0 L878.9,1054.0 L880.9,1056.9 L883.0,1059.7 L885.1,1062.5 L887.2,1065.3 L889.4,1068.0 L891.7,1070.7 L893.9,1073.4 L896.2,1076.0 L898.6,1078.6 L901.0,1081.1 L903.4,1083.6 L905.9,1086.0 L908.5,1088.4 L911.1,1090.7 L913.7,1092.9 L916.4,1095.1 L919.1,1097.3 L921.9,1099.4 L924.8,1101.4 L927.7,1103.4 L930.7,1105.3 L933.7,1107.1 L936.8,1108.9 L939.9,1110.6 L943.0,1112.3 L946.2,1113.9 L949.5,1115.5 L952.7,1117.0 L956.0,1118.5 L959.3,1119.9 L962.7,1121.4 L966.0,1122.7 L969.4,1124.1 L972.7,1125.4 L976.1,1126.7 L979.5,1128.0 L982.8,1129.3 L986.2,1130.5 L989.5,1131.7 L992.9,1132.9 L996.2,1134.1 L999.6,1135.3 L1002.9,1136.5 L1006.3,1137.6 L1009.6,1138.8 L1013.0,1139.9 L1016.3,1141.0 L1019.7,1142.1 L1023.0,1143.2 L1026.4,1144.2 L1029.7,1145.3 L1033.1,1146.3 L1036.4,1147.4 L1039.8,1148.4 L1043.2,1149.4 L1046.5,1150.4 L1049.9,1151.4 L1053.3,1152.4 L1056.7,1153.3 L1060.1,1154.3 L1063.5,1155.2 L1066.9,1156.2 L1070.3,1157.1 L1073.7,1158.0 L1077.2,1158.9 L1080.6,1159.8 L1084.0,1160.7 L1087.4,1161.6 L1090.9,1162.5 L1094.3,1163.4 L1097.7,1164.2 L1101.2,1165.1 L1104.6,1165.9 L1108.1,1166.8 L1111.5,1167.6 L1115.0,1168.5 L1118.4,1169.3 L1121.9,1170.1 L1125.4,1170.9 L1128.8,1171.8 L1132.3,1172.6 L1135.7,1173.4 L1139.2,1174.2 L1142.7,1175.0 L1146.1,1175.8 L1149.6,1176.6 L1153.1,1177.4 L1156.5,1178.2 L1160.0,1179.0 L1163.5,1179.8 L1166.9,1180.5 L1170.4,1181.3 L1173.9,1182.1 L1177.3,1182.9 L1180.8,1183.7 L1184.2,1184.5 L1187.7,1185.2 L1191.2,1186.0 L1194.6,1186.8 L1198.1,1187.6 L1201.5,1188.4 L1205.0,1189.1 L1208.5,1189.9 L1211.9,1190.7 L1215.4,1191.4 L1218.9,1192.2 L1222.3,1192.9 L1225.8,1193.7 L1229.2,1194.4 L1232.7,1195.2 L1236.2,1195.9 L1239.6,1196.7 L1243.1,1197.4 L1246.6,1198.1 L1250.0,1198.9 L1253.5,1199.6 L1257.0,1200.3 L1260.4,1201.0 L1263.9,1201.7 L1267.4,1202.4 L1270.8,1203.1 L1274.3,1203.8 L1277.8,1204.5 L1281.2,1205.2 L1284.7,1205.8 L1288.2,1206.5 L1291.7,1207.2 L1295.1,1207.8 L1298.6,1208.5 L1302.1,1209.1 L1305.6,1209.8 L1309.1,1210.4 L1312.6,1211.0 L1316.0,1211.6 L1319.5,1212.2 L1323.0,1212.8 L1326.5,1213.4 L1330.0,1214.0 L1333.5,1214.6 L1337.0,1215.2 L1340.5,1215.8 L1344.0,1216.3 L1347.5,1216.9 L1351.0,1217.4 L1354.5,1218.0 L1358.0,1218.5 L1361.5,1219.1 L1365.0,1219.6 L1368.5,1220.2 L1372.0,1220.7 L1375.5,1221.2 L1379.0,1221.7 L1382.5,1222.2 L1386.0,1222.7 L1389.5,1223.2 L1393.0,1223.7 L1396.5,1224.2 L1400.0,1224.7 L1403.5,1225.2 L1407.1,1225.6 L1410.6,1226.1 L1414.1,1226.6 L1417.6,1227.0 L1421.1,1227.5 L1424.6,1227.9 L1428.2,1228.4 L1431.7,1228.8 L1435.2,1229.3 L1438.7,1229.7 L1442.2,1230.1 L1445.7,1230.6 L1449.3,1231.0 L1452.8,1231.4 L1456.3,1231.8 L1459.8,1232.2 L1463.4,1232.6 L1466.9,1233.0 L1470.4,1233.4 L1473.9,1233.8 L1477.5,1234.2 L1481.0,1234.6 L1484.5,1235.0 L1488.0,1235.4 L1491.6,1235.8 L1495.1,1236.2 L1498.6,1236.5 L1502.1,1236.9 L1505.7,1237.3 L1509.2,1237.6 L1512.7,1238.0 L1516.3,1238.4 L1519.8,1238.7 L1523.3,1239.1 L1526.9,1239.4 L1530.4,1239.8 L1533.9,1240.1 L1537.4,1240.5 L1541.0,1240.8 L1544.5,1241.1 L1548.0,1241.5 L1551.6,1241.8 L1555.1,1242.1 L1558.6,1242.5 L1562.2,1242.8 L1565.7,1243.1 L1569.2,1243.5 L1572.8,1243.8 L1576.3,1244.1 L1579.8,1244.4 L1583.4,1244.7 L1586.9,1245.1 L1590.4,1245.4 L1594.0,1245.7 L1597.5,1246.0 L1601.0,1246.3 L1604.5,1246.6 L1608.1,1246.9 L1611.6,1247.2 L1615.1,1247.5 L1618.7,1247.8 L1622.2,1248.1 L1625.7,1248.4 L1629.3,1248.7 L1632.8,1249.0 L1636.3,1249.3 L1639.9,1249.6 L1643.4,1249.9 L1646.9,1250.2 L1650.5,1250.4 L1654.0,1250.7 L1657.5,1251.0 L1661.1,1251.3 L1664.6,1251.6 L1668.1,1251.8 L1671.7,1252.1 L1675.2,1252.4 L1678.7,1252.6 L1682.3,1252.9 L1685.8,1253.2 L1689.3,1253.4 L1692.9,1253.7 L1696.4,1254.0 L1699.9,1254.2 L1703.5,1254.5 L1707.0,1254.7 L1710.5,1255.0 L1714.1,1255.2 L1717.6,1255.5 L1721.1,1255.7 L1724.7,1256.0 L1728.2,1256.2 L1731.8,1256.5 L1735.3,1256.7 L1738.8,1256.9 L1742.4,1257.2 L1745.9,1257.4 L1749.4,1257.6 L1753.0,1257.9 L1756.5,1258.1 L1760.0,1258.3 L1763.6,1258.6 L1767.1,1258.8 L1770.7,1259.0 L1774.2,1259.2 L1777.7,1259.4 L1781.3,1259.7 L1784.8,1259.9 L1788.3,1260.1 L1791.9,1260.3 L1795.4,1260.5 L1799.0,1260.7 L1802.5,1260.9 L1806.0,1261.1 L1809.6,1261.3 L1813.1,1261.5 L1816.6,1261.7 L1820.2,1261.9 L1823.7,1262.1 L1827.3,1262.3 L1830.8,1262.5 L1834.3,1262.7 L1837.9,1262.9 L1841.4,1263.1 L1845.0,1263.3 L1848.5,1263.5 L1852.0,1263.7 L1855.6,1263.8 L1859.1,1264.0 L1862.7,1264.2 L1866.2,1264.4 L1869.7,1264.5 L1873.3,1264.7 L1876.8,1264.9 L1880.4,1265.1 L1883.9,1265.2 L1887.5,1265.4 L1891.0,1265.6 L1894.5,1265.7 L1898.1,1265.9 L1901.6,1266.0 L1905.2,1266.2 L1908.7,1266.4 L1912.3,1266.5 L1915.8,1266.7 L1919.4,1266.8 L1922.9,1267.0 L1926.4,1267.1 L1930.0,1267.3 L1933.5,1267.4 L1937.1,1267.5 L1940.6,1267.7 L1944.2,1267.8 L1947.7,1268.0 L1951.3,1268.1 L1954.8,1268.2 L1958.4,1268.4 L1961.9,1268.5 L1965.5,1268.6 L1969.0,1268.8 L1972.6,1268.9 L1976.1,1269.0 L1979.7,1269.1 L1983.2,1269.2 L1986.7,1269.4 L1990.3,1269.5 L1993.8,1269.6 L1997.4,1269.7 L2000.9,1269.8 L2004.5,1269.9 L2008.1,1270.1 L2011.6,1270.2 L2015.2,1270.3 L2018.7,1270.4 L2022.3,1270.5 L2025.8,1270.6 L2029.4,1270.7 L2032.9,1270.8 L2036.5,1270.9 L2040.0,1271.0" stroke="#00f" stroke-width="7.5" stroke-linecap="round" stroke-dasharray="26 39.27" stroke-dashoffset="24.5"/>
<path d="M366.1,40.1 L366.3,43.5 L366.6,46.9 L366.8,50.3 L367.1,53.8 L367.3,57.2 L367.6,60.6 L367.8,64.0 L368.0,67.4 L368.3,70.9 L368.5,74.3 L368.7,77.7 L369.0,81.1 L369.2,84.6 L369.4,88.0 L369.7,91.4 L369.9,94.9 L370.1,98.3 L370.4,101.7 L370.6,105.1 L370.8,108.6 L371.0,112.0 L371.3,115.4 L371.5,118.8 L371.7,122.3 L371.9,125.7 L372.2,129.1 L372.4,132.6 L372.6,136.0 L372.8,139.4 L373.1,142.9 L373.3,146.3 L373.5,149.7 L373.7,153.1 L374.0,156.6 L374.2,160.0 L374.4,163.4 L374.6,166.9 L374.9,170.3 L375.1,173.7 L375.3,177.2 L375.6,180.6 L375.8,184.0 L376.0,187.4 L376.3,190.9 L376.5,194.3 L376.8,197.7 L377.0,201.2 L377.2,204.6 L377.5,208.0 L377.7,211.5 L378.0,214.9 L378.2,218.3 L378.5,221.7 L378.7,225.2 L379.0,228.6 L379.2,232.0 L379.5,235.5 L379.8,238.9 L380.0,242.3 L380.3,245.7 L380.6,249.2 L380.8,252.6 L381.1,256.0 L381.4,259.4 L381.7,262.9 L382.0,266.3 L382.3,269.7 L382.6,273.1 L382.9,276.6 L383.2,280.0 L383.5,283.4 L383.8,286.8 L384.1,290.3 L384.4,293.7 L384.7,297.1 L385.0,300.5 L385.4,304.0 L385.7,307.4 L386.0,310.8 L386.4,314.2 L386.7,317.6 L387.1,321.0 L387.4,324.5 L387.8,327.9 L388.1,331.3 L388.5,334.7 L388.9,338.1 L389.3,341.5 L389.6,345.0 L390.0,348.4 L390.4,351.8 L390.8,355.2 L391.2,358.6 L391.6,362.0 L392.0,365.4 L392.5,368.8 L392.9,372.2 L393.3,375.7 L393.8,379.1 L394.2,382.5 L394.7,385.9 L395.1,389.3 L395.6,392.7 L396.0,396.1 L396.5,399.5 L397.0,402.9 L397.5,406.3 L398.0,409.7 L398.5,413.1 L399.0,416.5 L399.5,419.9 L400.0,423.3 L400.6,426.7 L401.1,430.1 L401.6,433.4 L402.2,436.8 L402.8,440.2 L403.3,443.6 L403.9,447.0 L404.5,450.4 L405.1,453.8 L405.7,457.2 L406.3,460.5 L406.9,463.9 L407.5,467.3 L408.1,470.7 L408.8,474.1 L409.4,477.5 L410.1,480.8 L410.7,484.2 L411.4,487.6 L412.1,491.0 L412.8,494.3 L413.5,497.7 L414.2,501.1 L414.9,504.4 L415.6,507.8 L416.3,511.2 L417.1,514.5 L417.8,517.9 L418.6,521.3 L419.4,524.6 L420.2,528.0 L421.0,531.3 L421.9,534.6 L422.7,538.0 L423.6,541.3 L424.6,544.6 L425.5,547.9 L426.5,551.2 L427.5,554.4 L428.6,557.7 L429.7,560.9 L430.8,564.2 L432.0,567.4 L433.2,570.6 L434.5,573.8 L435.8,576.9 L437.1,580.1 L438.6,583.2 L440.0,586.3 L441.6,589.4 L443.1,592.4 L444.8,595.4 L446.5,598.4 L448.2,601.4 L450.1,604.3 L452.0,607.1 L453.9,609.9 L455.9,612.7 L458.0,615.4 L460.2,618.1 L462.4,620.7 L464.7,623.2 L467.0,625.7 L469.4,628.2 L471.8,630.6 L474.3,632.9 L476.8,635.2 L479.3,637.5 L481.9,639.7 L484.6,641.9 L487.2,644.1 L489.9,646.2 L492.6,648.3 L495.3,650.3 L498.1,652.4 L500.9,654.4 L503.7,656.4 L506.5,658.4 L509.3,660.3 L512.1,662.3 L515.0,664.2 L517.8,666.2 L520.7,668.1 L523.5,670.0 L526.4,672.0 L529.2,673.9 L532.1,675.9 L534.9,677.8 L537.7,679.8 L540.5,681.8 L543.3,683.8 L546.1,685.8 L548.9,687.9 L551.6,690.0 L554.3,692.1 L557.0,694.2 L559.7,696.4 L562.3,698.6 L564.9,700.9 L567.5,703.1 L570.1,705.4 L572.6,707.7 L575.1,710.1 L577.6,712.4 L580.1,714.8 L582.6,717.2 L585.0,719.6 L587.5,722.1 L589.9,724.5 L592.3,727.0 L594.7,729.5 L597.0,731.9 L599.4,734.4 L601.8,736.9 L604.1,739.4 L606.5,741.9 L608.8,744.4 L611.1,747.0 L613.4,749.5 L615.7,752.0 L618.0,754.5 L620.3,757.1 L622.5,759.7 L624.8,762.2 L627.0,764.8 L629.2,767.4 L631.3,770.1 L633.5,772.7 L635.6,775.4 L637.7,778.1 L639.7,780.8 L641.8,783.6 L643.8,786.4 L645.8,789.2 L647.7,792.0 L649.6,794.9 L651.5,797.8 L653.3,800.7 L655.2,803.7 L657.0,806.7 L658.8,809.6 L660.6,812.6 L662.3,815.6 L664.1,818.6 L665.9,821.6 L667.6,824.6 L669.4,827.6 L671.2,830.6 L673.0,833.5 L674.9,836.5 L676.7,839.4 L678.6,842.3 L680.5,845.1 L682.5,847.9 L684.5,850.7 L686.5,853.4 L688.6,856.2 L690.6,858.8 L692.8,861.5 L694.9,864.1 L697.1,866.7 L699.2,869.3 L701.4,871.9 L703.6,874.4 L705.9,877.0 L708.1,879.5 L710.3,882.1 L712.6,884.6 L714.8,887.2 L717.0,889.7 L719.2,892.3 L721.5,894.9 L723.7,897.5 L725.9,900.1 L728.1,902.7 L730.2,905.4 L732.4,908.0 L734.5,910.7 L736.7,913.4 L738.8,916.1 L740.9,918.8 L743.0,921.5 L745.2,924.3 L747.3,927.0 L749.4,929.8 L751.4,932.5 L753.5,935.3 L755.6,938.1 L757.7,940.9 L759.8,943.7 L761.8,946.5 L763.9,949.3 L766.0,952.0 L768.1,954.8 L770.1,957.6 L772.2,960.4 L774.3,963.2 L776.3,966.0 L778.4,968.8 L780.5,971.6 L782.6,974.4 L784.7,977.2 L786.8,980.0 L788.9,982.7 L791.0,985.5 L793.1,988.2 L795.3,991.0 L797.4,993.7 L799.5,996.4 L801.7,999.2 L803.9,1001.8 L806.0,1004.5 L808.2,1007.2 L810.4,1009.9 L812.6,1012.5 L814.9,1015.1 L817.1,1017.7 L819.4,1020.3 L821.6,1022.9 L823.9,1025.4 L826.2,1028.0 L828.6,1030.5 L830.9,1033.0 L833.3,1035.4 L835.6,1037.9 L838.0,1040.3 L840.5,1042.7 L842.9,1045.0 L845.4,1047.4 L847.9,1049.7 L850.4,1051.9 L852.9,1054.2 L855.5,1056.4 L858.1,1058.6 L860.7,1060.8 L863.3,1062.9 L866.0,1065.0 L868.7,1067.0 L871.4,1069.0 L874.1,1071.0 L876.9,1073.0 L879.7,1074.9 L882.5,1076.8 L885.4,1078.6 L888.3,1080.4 L891.2,1082.2 L894.1,1084.0 L897.0,1085.7 L900.0,1087.4 L903.0,1089.1 L906.0,1090.7 L909.0,1092.3 L912.1,1093.9 L915.1,1095.5 L918.2,1097.0 L921.3,1098.5 L924.4,1100.0 L927.5,1101.4 L930.7,1102.9 L933.8,1104.3 L937.0,1105.6 L940.2,1107.0 L943.4,1108.3 L946.6,1109.7 L949.8,1111.0 L953.0,1112.2 L956.2,1113.5 L959.5,1114.7 L962.7,1115.9 L966.0,1117.1 L969.2,1118.3 L972.5,1119.5 L975.8,1120.6 L979.0,1121.8 L982.3,1122.9 L985.6,1124.0 L988.9,1125.1 L992.2,1126.1 L995.5,1127.2 L998.7,1128.3 L1002.0,1129.3 L1005.3,1130.3 L1008.6,1131.3 L1011.9,1132.3 L1015.2,1133.3 L1018.5,1134.3 L1021.8,1135.2 L1025.1,1136.2 L1028.4,1137.1 L1031.7,1138.1 L1035.0,1139.0 L1038.3,1139.9 L1041.6,1140.8 L1044.9,1141.7 L1048.2,1142.6 L1051.5,1143.5 L1054.9,1144.4 L1058.2,1145.3 L1061.5,1146.1 L1064.8,1147.0 L1068.1,1147.9 L1071.4,1148.7 L1074.7,1149.6 L1078.1,1150.4 L1081.4,1151.2 L1084.7,1152.1 L1088.0,1152.9 L1091.3,1153.8 L1094.7,1154.6 L1098.0,1155.4 L1101.3,1156.2 L1104.6,1157.1 L1108.0,1157.9 L1111.3,1158.7 L1114.6,1159.5 L1117.9,1160.4 L1121.3,1161.2 L1124.6,1162.0 L1127.9,1162.8 L1131.2,1163.6 L1134.6,1164.5 L1137.9,1165.3 L1141.2,1166.1 L1144.6,1166.9 L1147.9,1167.8 L1151.2,1168.6 L1154.6,1169.4 L1157.9,1170.2 L1161.2,1171.0 L1164.6,1171.9 L1167.9,1172.7 L1171.2,1173.5 L1174.6,1174.3 L1177.9,1175.1 L1181.2,1175.9 L1184.6,1176.8 L1187.9,1177.6 L1191.3,1178.4 L1194.6,1179.2 L1197.9,1180.0 L1201.3,1180.8 L1204.6,1181.6 L1208.0,1182.4 L1211.3,1183.2 L1214.7,1184.0 L1218.0,1184.8 L1221.3,1185.5 L1224.7,1186.3 L1228.0,1187.1 L1231.4,1187.9 L1234.7,1188.7 L1238.1,1189.5 L1241.4,1190.2 L1244.8,1191.0 L1248.1,1191.8 L1251.5,1192.5 L1254.8,1193.3 L1258.2,1194.0 L1261.5,1194.8 L1264.9,1195.5 L1268.3,1196.3 L1271.6,1197.0 L1275.0,1197.8 L1278.3,1198.5 L1281.7,1199.2 L1285.0,1200.0 L1288.4,1200.7 L1291.8,1201.4 L1295.1,1202.1 L1298.5,1202.8 L1301.9,1203.5 L1305.2,1204.2 L1308.6,1204.9 L1312.0,1205.6 L1315.3,1206.3 L1318.7,1207.0 L1322.1,1207.7 L1325.4,1208.3 L1328.8,1209.0 L1332.2,1209.7 L1335.5,1210.3 L1338.9,1211.0 L1342.3,1211.6 L1345.7,1212.3 L1349.0,1212.9 L1352.4,1213.5 L1355.8,1214.2 L1359.2,1214.8 L1362.5,1215.4 L1365.9,1216.0 L1369.3,1216.6 L1372.7,1217.2 L1376.1,1217.8 L1379.5,1218.4 L1382.8,1219.0 L1386.2,1219.5 L1389.6,1220.1 L1393.0,1220.7 L1396.4,1221.2 L1399.8,1221.8 L1403.2,1222.3 L1406.5,1222.9 L1409.9,1223.4 L1413.3,1224.0 L1416.7,1224.5 L1420.1,1225.0 L1423.5,1225.6 L1426.9,1226.1 L1430.3,1226.6 L1433.7,1227.1 L1437.1,1227.6 L1440.5,1228.1 L1443.9,1228.6 L1447.3,1229.1 L1450.7,1229.6 L1454.1,1230.1 L1457.5,1230.5 L1460.9,1231.0 L1464.3,1231.5 L1467.7,1231.9 L1471.1,1232.4 L1474.5,1232.8 L1477.9,1233.3 L1481.3,1233.7 L1484.7,1234.2 L1488.1,1234.6 L1491.5,1235.1 L1494.9,1235.5 L1498.3,1235.9 L1501.7,1236.3 L1505.1,1236.8 L1508.5,1237.2 L1512.0,1237.6 L1515.4,1238.0 L1518.8,1238.4 L1522.2,1238.8 L1525.6,1239.2 L1529.0,1239.6 L1532.4,1239.9 L1535.8,1240.3 L1539.3,1240.7 L1542.7,1241.1 L1546.1,1241.4 L1549.5,1241.8 L1552.9,1242.2 L1556.3,1242.5 L1559.7,1242.9 L1563.2,1243.2 L1566.6,1243.6 L1570.0,1243.9 L1573.4,1244.3 L1576.8,1244.6 L1580.3,1245.0 L1583.7,1245.3 L1587.1,1245.6 L1590.5,1245.9 L1593.9,1246.3 L1597.4,1246.6 L1600.8,1246.9 L1604.2,1247.2 L1607.6,1247.5 L1611.1,1247.8 L1614.5,1248.1 L1617.9,1248.4 L1621.3,1248.7 L1624.8,1249.0 L1628.2,1249.3 L1631.6,1249.6 L1635.0,1249.9 L1638.5,1250.1 L1641.9,1250.4 L1645.3,1250.7 L1648.7,1251.0 L1652.2,1251.2 L1655.6,1251.5 L1659.0,1251.8 L1662.4,1252.0 L1665.9,1252.3 L1669.3,1252.5 L1672.7,1252.8 L1676.2,1253.1 L1679.6,1253.3 L1683.0,1253.5 L1686.5,1253.8 L1689.9,1254.0 L1693.3,1254.3 L1696.7,1254.5 L1700.2,1254.7 L1703.6,1255.0 L1707.0,1255.2 L1710.5,1255.4 L1713.9,1255.6 L1717.3,1255.9 L1720.8,1256.1 L1724.2,1256.3 L1727.6,1256.5 L1731.1,1256.7 L1734.5,1256.9 L1737.9,1257.1 L1741.4,1257.3 L1744.8,1257.5 L1748.2,1257.7 L1751.7,1257.9 L1755.1,1258.1 L1758.5,1258.3 L1762.0,1258.5 L1765.4,1258.7 L1768.8,1258.9 L1772.3,1259.1 L1775.7,1259.3 L1779.1,1259.5 L1782.6,1259.7 L1786.0,1259.8 L1789.4,1260.0 L1792.9,1260.2 L1796.3,1260.4 L1799.7,1260.6 L1803.2,1260.7 L1806.6,1260.9 L1810.1,1261.1 L1813.5,1261.2 L1816.9,1261.4 L1820.4,1261.6 L1823.8,1261.7 L1827.2,1261.9 L1830.7,1262.1 L1834.1,1262.2 L1837.5,1262.4 L1841.0,1262.5 L1844.4,1262.7 L1847.8,1262.9 L1851.3,1263.0 L1854.7,1263.2 L1858.1,1263.3 L1861.6,1263.5 L1865.0,1263.6 L1868.4,1263.8 L1871.9,1263.9 L1875.3,1264.1 L1878.7,1264.2 L1882.2,1264.4 L1885.6,1264.5 L1889.1,1264.6 L1892.5,1264.8 L1895.9,1264.9 L1899.4,1265.1 L1902.8,1265.2 L1906.2,1265.3 L1909.7,1265.5 L1913.1,1265.6 L1916.5,1265.8 L1920.0,1265.9 L1923.4,1266.0 L1926.8,1266.2 L1930.2,1266.3 L1933.7,1266.5 L1937.1,1266.6 L1940.5,1266.7 L1944.0,1266.9 L1947.4,1267.0 L1950.8,1267.1 L1954.3,1267.3 L1957.7,1267.4 L1961.1,1267.5 L1964.6,1267.7 L1968.0,1267.8 L1971.4,1267.9 L1974.8,1268.1 L1978.3,1268.2 L1981.7,1268.3 L1985.1,1268.5 L1988.6,1268.6 L1992.0,1268.7 L1995.4,1268.8 L1998.8,1269.0 L2002.3,1269.1 L2005.7,1269.2 L2009.1,1269.4 L2012.5,1269.5 L2016.0,1269.6 L2019.4,1269.8 L2022.8,1269.9 L2026.2,1270.1 L2029.7,1270.2 L2033.1,1270.3 L2036.5,1270.5 L2039.9,1270.6" stroke="#0ff" stroke-width="7.5" stroke-linecap="round" stroke-dasharray="26 39.27" stroke-dashoffset="-2"/>
</g>
<g text-anchor="end">
<text transform="translate(252.5 1387.5) scale(1 1.04)">0.0</text>
<text transform="translate(252.5 1171.0) scale(1 1.04)">0.1</text>
<text transform="translate(252.5 954.5) scale(1 1.04)">0.2</text>
<text transform="translate(252.5 738.0) scale(1 1.04)">0.3</text>
<text transform="translate(252.5 521.5) scale(1 1.04)">0.4</text>
<text transform="translate(252.5 305.0) scale(1 1.04)">0.5</text>
<text transform="translate(252.5 88.5) scale(1 1.04)">0.6</text>
</g>
<g text-anchor="middle">
<text transform="translate(363.0 1458.5) scale(1 1.04)">250</text>
<text transform="translate(698.2 1458.5) scale(1 1.04)">300</text>
<text transform="translate(1033.4 1458.5) scale(1 1.04)">350</text>
<text transform="translate(1368.6 1458.5) scale(1 1.04)">400</text>
<text transform="translate(1703.8 1458.5) scale(1 1.04)">450</text>
<text transform="translate(2039.0 1458.5) scale(1 1.04)">500</text>
<text transform="translate(1167.5 1560.3) scale(1 1.04)" letter-spacing="0.1">Wavelength (nm)</text>
<text transform="translate(90.0 718.0) rotate(-90) scale(1 1.04)">Absorbance</text>
</g>
<text transform="translate(1383.5 224.6) scale(1 1.04)">A<tspan font-style="italic">N</tspan>HMA (chloroform)</text>
<line x1="1382.7" y1="278.1" x2="1520.2" y2="278.1" stroke="#000" stroke-width="7.5" stroke-linecap="round"/>
<text transform="translate(1538.2 299.8) scale(1 1.04)" letter-spacing="0.15">no. irr.</text>
<line x1="1382.7" y1="354.2" x2="1520.2" y2="354.2" stroke="#f00" stroke-width="7.5" stroke-linecap="round"/>
<text transform="translate(1538.2 375.8) scale(1 1.04)" letter-spacing="0.15">irr. 1 min.</text>
<line x1="1382.7" y1="430.2" x2="1520.2" y2="430.2" stroke="#0f0" stroke-width="7.5" stroke-linecap="round"/>
<text transform="translate(1538.2 451.7) scale(1 1.04)" letter-spacing="0.15">irr. 5 min.</text>
<line x1="1382.7" y1="506.2" x2="1520.2" y2="506.2" stroke="#00f" stroke-width="7.5" stroke-linecap="round" stroke-dasharray="28 38"/>
<text transform="translate(1538.2 527.7) scale(1 1.04)" letter-spacing="0.15">irr. 10 min.</text>
<line x1="1382.7" y1="582.3" x2="1520.2" y2="582.3" stroke="#0ff" stroke-width="7.5" stroke-linecap="round" stroke-dasharray="28 38"/>
<text transform="translate(1538.2 603.6) scale(1 1.04)" letter-spacing="0.15">irr. 15 min.</text>
<line x1="621.7" y1="243.3" x2="621.7" y2="310.8" stroke="#000" stroke-width="3"/>
<polygon points="621.7,209.3 612.7,244.3 630.7,244.3" fill="#000"/>
<line x1="645.4" y1="210.3" x2="645.4" y2="286" stroke="#000" stroke-width="3" stroke-dasharray="8.5 7.5"/>
<polygon points="645.4,320 636.4,285 654.4,285" fill="#000"/>
<line x1="925" y1="315" x2="925" y2="389.4" stroke="#000" stroke-width="2"/>
<polygon points="925,425.4 916,388.4 934,388.4" fill="#000"/>
<line x1="1309.5" y1="1009.9" x2="1309.5" y2="1078" stroke="#000" stroke-width="3"/>
<polygon points="1309.5,975.9 1300.5,1010.9 1318.5,1010.9" fill="#000"/>
<line x1="1342.4" y1="975.9" x2="1342.4" y2="1051.5" stroke="#000" stroke-width="3" stroke-dasharray="8.5 7.5"/>
<polygon points="1342.4,1085.5 1333.4,1050.5 1351.4,1050.5" fill="#000"/>
</svg></body></html>
